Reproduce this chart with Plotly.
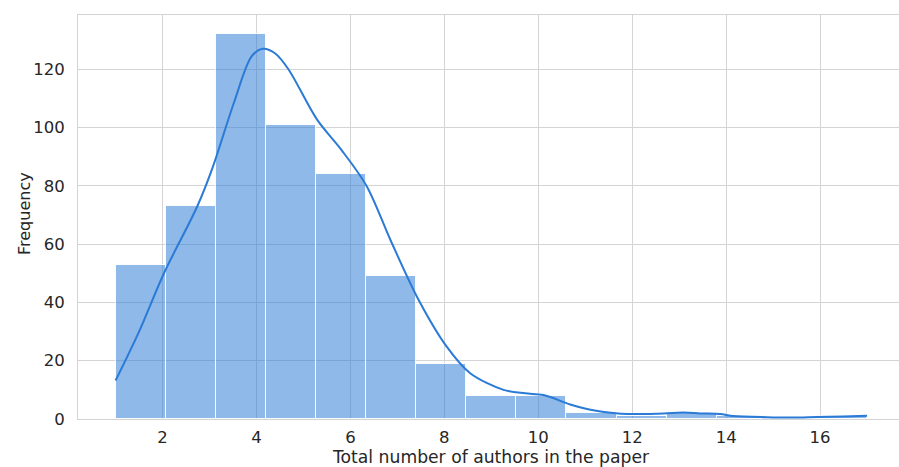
import plotly.graph_objects as go

# Histogram data (15 equal bins between 1 and 17)
bin_start = 1.0
bin_end = 17.0
counts = [53, 73, 132, 101, 84, 49, 19, 8, 8, 2, 1, 2, 1, 0, 1]

# KDE curve (scaled to counts)
kde_x = [1.0, 1.5, 2.03, 2.74, 3.06, 3.52, 3.9, 4.14, 4.4, 4.68, 5.29, 5.8, 6.35,
         6.85, 7.45, 8.05, 8.55, 9.26, 9.72, 10.11, 10.68, 11.14, 11.7, 12.0, 12.5, 13.1,
         13.45, 13.87, 14.15, 14.87, 15.4, 15.93, 16.5, 17.0]
kde_y = [13.2, 30.0, 50.0, 73.0, 86.0, 108.5, 124.5, 127.0, 125.4, 120.0, 102.7, 92.5, 79.8,
         61.5, 40.9, 24.8, 15.7, 10.0, 8.8, 8.2, 5.0, 3.1, 1.9, 1.7, 1.8, 2.2,
         1.9, 1.7, 1.0, 0.6, 0.5, 0.7, 0.9, 1.1]

x_ticks = [2, 4, 6, 8, 10, 12, 14, 16]
y_ticks = [0, 20, 40, 60, 80, 100, 120]

x_title = "Total number of authors in the paper"
y_title = "Frequency"

n_bins = len(counts)
bw = (bin_end - bin_start) / n_bins
centers = [bin_start + (i + 0.5) * bw for i in range(n_bins)]

blue = "#2a7ad6"
grid = "#d4d4d4"
font = "DejaVu Sans"
tcol = "#262626"

fig = go.Figure()
fig.add_trace(go.Bar(
    x=centers, y=counts, width=bw,
    marker=dict(color="rgba(42,122,214,0.53)", line=dict(color="rgba(255,255,255,0.9)", width=1)),
    showlegend=False, hoverinfo="skip",
))
fig.add_trace(go.Scatter(
    x=kde_x, y=kde_y, mode="lines",
    line=dict(color=blue, width=2, shape="spline", smoothing=0.9),
    showlegend=False,
))

fig.update_layout(
    width=899, height=467,
    margin=dict(l=78, r=0, t=15, b=48),
    plot_bgcolor="white", paper_bgcolor="white",
    bargap=0,
    font=dict(family=font, color=tcol, size=16),
)
fig.update_xaxes(
    range=[0.2, 17.68], tickvals=x_ticks, ticktext=[str(v) for v in x_ticks],
    showgrid=True, gridcolor=grid, gridwidth=1, zeroline=False,
    showline=True, linecolor=grid, linewidth=1, mirror=True,
    ticks="", ticklabelstandoff=3, automargin=False,
    tickfont=dict(size=16.5, family=font, color=tcol),
)
fig.update_yaxes(
    range=[0, 138.6], tickvals=y_ticks, ticktext=[str(v) for v in y_ticks],
    showgrid=True, gridcolor=grid, gridwidth=1, zeroline=False,
    showline=True, linecolor=grid, linewidth=1, mirror=False,
    ticks="", ticklabelstandoff=9, automargin=False,
    tickfont=dict(size=16.5, family=font, color=tcol),
)
fig.add_annotation(
    text=x_title, xref="paper", yref="paper", x=(491 - 78) / 821, y=-(457 - 419) / 404,
    showarrow=False, xanchor="center", yanchor="middle",
    font=dict(size=17.2, family=font, color=tcol),
)
fig.add_annotation(
    text=y_title, xref="paper", yref="paper", x=-(78 - 24) / 821, y=(419 - 214) / 404,
    showarrow=False, xanchor="center", yanchor="middle", textangle=-90,
    font=dict(size=16, family=font, color=tcol),
)

# remove the default page margin so the figure fills the window exactly
fig.write_html(
    "out.html",
    config={"displayModeBar": False},
    post_script="document.body.style.margin='0';document.body.style.overflow='hidden';",
)
